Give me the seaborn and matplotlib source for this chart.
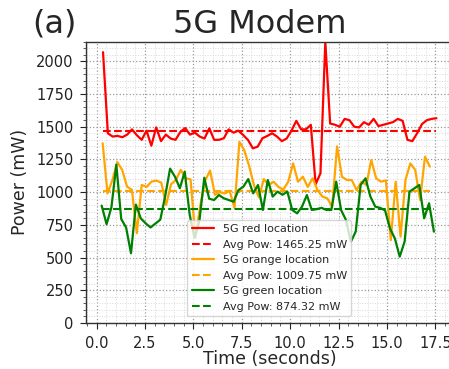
import numpy as np
import matplotlib
matplotlib.use("Agg")
import matplotlib.pyplot as plt
from matplotlib.ticker import MultipleLocator, AutoMinorLocator, FormatStrFormatter
import seaborn as sns

# Modem power traces (mW), one sample roughly every 0.25 s
red_power = [2070, 1450, 1425, 1430, 1420, 1440, 1480, 1435, 1400, 1470,
             1355, 1495, 1390, 1440, 1410, 1400, 1460, 1490, 1440, 1455,
             1425, 1410, 1488, 1400, 1400, 1412, 1480, 1455, 1470, 1437,
             1399, 1335, 1348, 1412, 1430, 1450, 1425, 1390, 1410, 1470,
             1545, 1480, 1480, 1515, 1060, 1145, 2150, 1525, 1515, 1500,
             1560, 1550, 1500, 1495, 1535, 1515, 1560, 1505, 1515, 1525,
             1535, 1560, 1545, 1400, 1390, 1450, 1520, 1550, 1560, 1565]
orange_power = [1374, 991, 1093, 1230, 1170, 1042, 1017, 686, 1055, 1040,
                1081, 1088, 1073, 902, 1060, 1093, 1170, 1106, 1098, 650,
                900, 1090, 1165, 980, 1000, 990, 1010, 880, 1385, 1320,
                1200, 1050, 960, 1100, 1055, 1080, 1040, 1020, 1080, 1220,
                1080, 1118, 1040, 1106, 1016, 966, 953, 889, 1350, 1118,
                1093, 1093, 1016, 1080, 1055, 1246, 1106, 1080, 1090, 634,
                1080, 660, 1093, 1220, 1170, 940, 1271, 1195]
green_power = [897, 755, 885, 1210, 795, 730, 533, 905, 800, 762,
               730, 760, 790, 970, 1180, 1118, 1030, 1157, 830, 650,
               780, 1110, 950, 940, 978, 953, 940, 927, 1016, 1042,
               1100, 991, 1055, 864, 1093, 966, 1004, 980, 1004, 864,
               838, 889, 978, 864, 870, 880, 864, 864, 1080, 864,
               787, 620, 700, 1055, 1106, 966, 889, 880, 860, 723,
               647, 507, 622, 1004, 1029, 1055, 800, 915, 698]

red_avg = 1465.25
orange_avg = 1009.75
green_avg = 874.32

# first and last sample time of each trace (s)
red_span = (0.33, 17.56)
orange_span = (0.31, 17.22)
green_span = (0.26, 17.43)

series_names = ["red", "orange", "green"]
series_colors = ["#ff0000", "#ffa500", "#008000"]

sns.set_style("ticks")
plt.rcParams["font.family"] = ["DejaVu Sans"]

fig = plt.figure(figsize=(4.49, 3.69), dpi=100)
ax = fig.add_axes([86 / 449, 46 / 369, 366.7 / 449, 281.3 / 369])

traces = [(red_power, red_avg, red_span),
          (orange_power, orange_avg, orange_span),
          (green_power, green_avg, green_span)]

for (power, avg, span), name, color in zip(traces, series_names, series_colors):
    t = np.linspace(span[0], span[1], len(power))
    sns.lineplot(x=t, y=power, color=color, lw=1.6, ax=ax,
                 label=f"5G {name} location")
    sns.lineplot(x=t, y=np.full(len(t), avg), color=color, lw=1.5, ax=ax,
                 linestyle="--", label=f"Avg Pow: {avg:.2f} mW")

ax.set_xlim(-0.55, 18.4)
ax.set_ylim(0, max(red_power))
ax.xaxis.set_major_locator(MultipleLocator(2.5))
ax.yaxis.set_major_locator(MultipleLocator(250))
ax.xaxis.set_major_formatter(FormatStrFormatter("%.1f"))
ax.xaxis.set_minor_locator(AutoMinorLocator(5))
ax.yaxis.set_minor_locator(AutoMinorLocator(5))

ax.grid(which="major", linestyle=":", color="#9a9a9a", lw=0.9)
ax.grid(which="minor", linestyle=":", color="#d9d9d9", lw=0.7)
ax.set_axisbelow(True)

for side in ["left", "bottom", "top", "right"]:
    ax.spines[side].set_visible(True)
    ax.spines[side].set_color("#333333")
    ax.spines[side].set_linewidth(1.0)

ax.tick_params(which="major", direction="out", length=4.5, width=0.8,
               labelsize=10.5, colors="#222222", pad=4.5)
ax.tick_params(which="minor", direction="out", length=2.5, width=0.6,
               colors="#444444")

ax.set_xlabel("Time (seconds)", fontsize=12.5, labelpad=0)
ax.set_ylabel("Power (mW)", fontsize=12.5, labelpad=5)

ax.legend(loc="lower center", fontsize=8, framealpha=0.8,
          borderaxespad=0.6)

fig.text(259.5 / 449, 1 - 32.7 / 369, "5G Modem", fontsize=23,
         ha="center", va="baseline")
fig.text(32 / 449, 1 - 32.7 / 369, "(a)", fontsize=23,
         ha="left", va="baseline")

fig.savefig("out.png", dpi=100)
